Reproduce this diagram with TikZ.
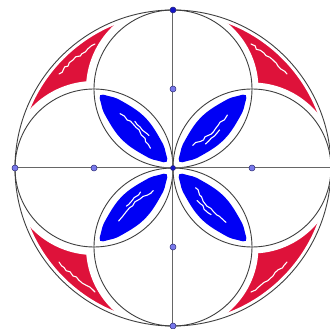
\documentclass[tikz,border=0pt]{standalone}
\usetikzlibrary{decorations.pathmorphing}
\definecolor{petalblue}{RGB}{0,0,245}
\definecolor{cornerred}{RGB}{222,18,58}
\definecolor{dotfill}{RGB}{120,120,235}
\definecolor{dotedge}{RGB}{45,45,120}
\definecolor{dotdark}{RGB}{20,20,200}
\tikzset{
  circ/.style={draw=black!75, line width=0.9pt},
  axis/.style={draw=black!60, line width=1pt},
  dotlight/.style={circle, fill=dotfill, draw=dotedge, line width=0.5pt, inner sep=0pt, minimum size=6pt},
  dotstrong/.style={circle, fill=dotdark, draw=dotedge, line width=0.5pt, inner sep=0pt, minimum size=6pt},
  cutmargin/.style={draw=white, line width=#1},
  scribble/.style={draw=white, line width=1.1pt, line cap=round, decorate, decoration={random steps, segment length=4pt, amplitude=1.2pt}}
}
\begin{document}
\begin{tikzpicture}[x=1pt,y=1pt]
\useasboundingbox (-173,-161) rectangle (157,168);
\clip (-173,-161) rectangle (157,168);
\fill[white] (-173,-161) rectangle (157,168);
% red corner regions
\foreach \sx/\sy/\m in {1/1/13, -1/1/16, 1/-1/13, -1/-1/16} {
  \begin{scope}[xscale=\sx, yscale=\sy]
    \fill[cornerred] (0,158) arc[start angle=90, end angle=0, radius=158]
      arc[start angle=0, end angle=90, radius=79]
      arc[start angle=0, end angle=90, radius=79] -- cycle;
    \draw[cutmargin=7pt] (0,158) arc[start angle=90, end angle=0, radius=158];
    \draw[cutmargin=\m pt, line join=round] (158,0) arc[start angle=0, end angle=90, radius=79]
      arc[start angle=0, end angle=90, radius=79];
    \draw[scribble] (78,124) -- (100,108) -- (114,94);
  \end{scope}
}
% blue petals
\foreach \ang in {45, 135, 225, 315} {
  \begin{scope}[shift={(\ang:55.9)}, rotate=\ang-90]
    \fill[petalblue] plot[smooth cycle, tension=0.7] coordinates {
      (0,-47) (5,-41) (11,-28) (16,0) (11,28) (5,41) (0,47)
      (-5,41) (-11,28) (-16,0) (-11,-28) (-5,-41)};
    \draw[scribble] (-2,-26) -- (3,-5) -- (1,20);
    \draw[scribble] (6,-16) -- (6,4);
  \end{scope}
}
% circles
\draw[circ] (0,0) circle[radius=158];
\draw[circ] (0,79) circle[radius=79];
\draw[circ] (0,-79) circle[radius=79];
\draw[circ] (79,0) circle[radius=79];
\draw[circ] (-79,0) circle[radius=79];
% points
\coordinate (E) at (158,0);
\coordinate (Npos) at (0,158);
\coordinate (Spos) at (0,-158);
\coordinate (Wpos) at (-158,0);
\draw[axis] (Wpos) -- (E);
\draw[axis] (Npos) -- (Spos);
\node[dotstrong] (N) at (Npos) {};
\node[dotlight] (W) at (Wpos) {};
\node[dotlight] (S) at (Spos) {};
\node[dotlight] (cN) at (0,79) {};
\node[dotlight] (cS) at (0,-79) {};
\node[dotlight] (cW) at (-79,0) {};
\node[dotlight] (cE) at (79,0) {};
\node[dotstrong, minimum size=5pt] (O) at (0,0) {};
\end{tikzpicture}
\end{document}
